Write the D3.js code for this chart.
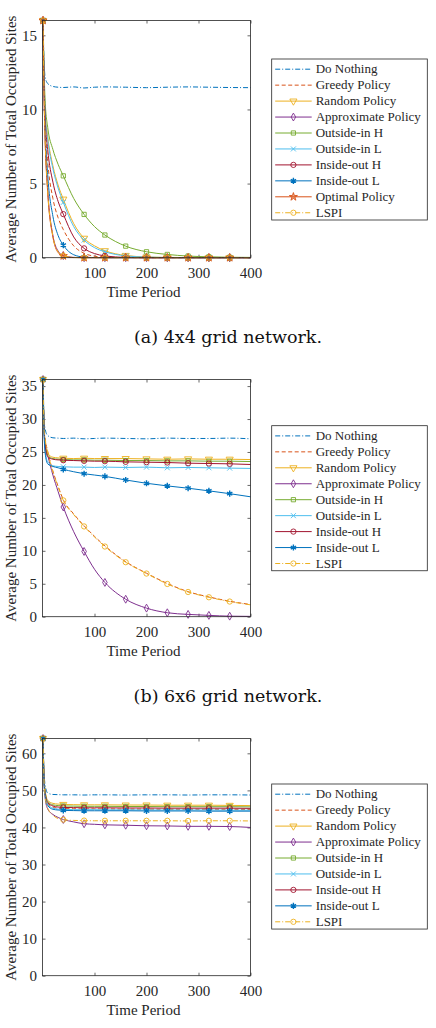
<!DOCTYPE html>
<html>
<head>
<meta charset="utf-8">
<script src="https://cdn.jsdelivr.net/npm/d3@7"></script>
<style>
body { margin: 0; background: #fff; }
svg { display: block; }
text { font-family: "Liberation Serif", "Times New Roman", serif; fill: #262626; }
.caption { font-family: "DejaVu Serif", serif; fill: #111; }
</style>
</head>
<body>
<div id="chart"></div>
<script>
var timeSteps = [1, 3, 5, 10, 20, 30, 40, 60, 80, 100, 120, 160, 200, 240, 280, 320, 360, 400];
var markerSteps = [1, 40, 80, 120, 160, 200, 240, 280, 320, 360];
var xTicks = [100, 200, 300, 400];

// (a) 4x4 grid network
var a_doNothing = [16, 13.3, 12.2, 11.75, 11.55, 11.5, 11.48, 11.52, 11.45, 11.5, 11.52, 11.5, 11.47, 11.5, 11.52, 11.5, 11.48, 11.47];
var a_greedy    = [16, 11.8, 9.2, 6.5, 4.0, 2.7, 1.9, 0.8, 0.3, 0.1, 0.04, 0.01, 0, 0, 0, 0, 0, 0];
var a_random    = [16, 12.3, 10.0, 8.2, 6.2, 4.9, 3.95, 2.3, 1.31, 0.8, 0.47, 0.15, 0.05, 0.02, 0.01, 0, 0, 0];
var a_approx    = [16, 11.0, 8.2, 4.6, 1.5, 0.45, 0.14, 0.02, 0, 0, 0, 0, 0, 0, 0, 0, 0, 0];
var a_outH      = [16, 12.8, 10.6, 8.8, 7.3, 6.3, 5.52, 4.0, 2.92, 2.1, 1.53, 0.78, 0.40, 0.22, 0.11, 0.06, 0.03, 0.02];
var a_outL      = [16, 12.2, 9.8, 8.0, 6.0, 4.7, 3.73, 2.1, 1.19, 0.68, 0.4, 0.12, 0.04, 0.01, 0, 0, 0, 0];
var a_inH       = [16, 12.0, 9.5, 7.3, 5.1, 3.8, 2.94, 1.4, 0.63, 0.28, 0.12, 0.02, 0, 0, 0, 0, 0, 0];
var a_inL       = [16, 11.5, 8.8, 5.6, 2.8, 1.5, 0.85, 0.2, 0.04, 0.01, 0, 0, 0, 0, 0, 0, 0, 0];
var a_optimal   = [16, 10.9, 8.0, 4.4, 1.4, 0.35, 0.12, 0.01, 0, 0, 0, 0, 0, 0, 0, 0, 0, 0];
var a_lspi      = [16, 11.0, 8.1, 4.5, 1.45, 0.4, 0.13, 0.02, 0, 0, 0, 0, 0, 0, 0, 0, 0, 0];
var a_yTicks = [0, 5, 10, 15];

// (b) 6x6 grid network
var b_doNothing = [36, 30.5, 28.5, 27.5, 27.15, 27.1, 27.05, 27.1, 27.0, 27.05, 27.1, 27.05, 27.0, 27.1, 27.05, 27.05, 27.1, 27.0];
var b_greedy    = [36, 28.6, 27.1, 25.1, 22.1, 19.8, 17.75, 15.6, 13.8, 12.2, 10.75, 8.35, 6.6, 5.05, 3.8, 3.0, 2.35, 1.85];
var b_random    = [36, 29, 26.5, 24.8, 24.2, 24.1, 24.05, 24.0, 24.05, 24.0, 24.0, 24.0, 23.95, 23.9, 23.95, 23.9, 23.9, 23.85];
var b_approx    = [36, 28, 26.2, 24.5, 21.5, 19.0, 16.65, 12.9, 9.9, 7.2, 5.2, 2.65, 1.3, 0.6, 0.35, 0.2, 0.08, 0.05];
var b_outH      = [36, 29, 26.3, 24.5, 24.0, 23.9, 23.85, 23.8, 23.8, 23.75, 23.75, 23.7, 23.7, 23.65, 23.65, 23.6, 23.6, 23.55];
var b_outL      = [36, 28.3, 25.3, 23.5, 22.9, 22.8, 22.75, 22.7, 22.7, 22.65, 22.7, 22.65, 22.7, 22.6, 22.65, 22.6, 22.55, 22.5];
var b_inH       = [36, 28.8, 26, 24.3, 23.9, 23.8, 23.75, 23.7, 23.65, 23.6, 23.6, 23.5, 23.45, 23.4, 23.3, 23.25, 23.2, 23.1];
var b_inL       = [36, 28, 24.9, 23.2, 22.8, 22.6, 22.37, 22.0, 21.7, 21.5, 21.3, 20.75, 20.25, 19.85, 19.5, 19.1, 18.67, 18.2];
var b_lspi      = [36, 28.5, 27, 25, 22, 19.7, 17.65, 15.5, 13.7, 12.1, 10.65, 8.27, 6.55, 4.97, 3.75, 2.95, 2.3, 1.8];
var b_yTicks = [0, 5, 10, 15, 20, 25, 30, 35];

// (c) 8x8 grid network
var c_doNothing = [64, 55, 51.5, 49.3, 48.9, 48.85, 48.8, 48.8, 48.75, 48.8, 48.8, 48.75, 48.8, 48.8, 48.75, 48.8, 48.8, 48.75];
var c_greedy    = [64, 52.8, 49.3, 46.5, 45.5, 45.2, 45.1, 45.05, 45.0, 45.0, 45.0, 44.95, 44.95, 44.9, 44.9, 44.9, 44.9, 44.85];
var c_random    = [64, 53.5, 50, 47.3, 46.5, 46.3, 46.2, 46.15, 46.1, 46.1, 46.1, 46.05, 46.05, 46.0, 46.0, 46.0, 45.95, 45.9];
var c_approx    = [64, 52, 48, 45, 43.5, 42.7, 42.15, 41.5, 41.0, 40.85, 40.7, 40.6, 40.45, 40.4, 40.3, 40.3, 40.25, 40.0];
var c_outH      = [64, 53.3, 49.8, 47.0, 46.1, 45.9, 45.8, 45.75, 45.7, 45.7, 45.7, 45.65, 45.65, 45.6, 45.6, 45.6, 45.6, 45.55];
var c_outL      = [64, 52.6, 49.0, 46.2, 45.2, 44.95, 44.85, 44.8, 44.8, 44.8, 44.75, 44.75, 44.7, 44.7, 44.7, 44.7, 44.65, 44.65];
var c_inH       = [64, 53, 49.5, 46.7, 45.8, 45.5, 45.4, 45.35, 45.3, 45.3, 45.3, 45.25, 45.25, 45.2, 45.2, 45.2, 45.2, 45.15];
var c_inL       = [64, 52.3, 48.7, 45.9, 44.9, 44.7, 44.6, 44.55, 44.5, 44.5, 44.5, 44.5, 44.45, 44.45, 44.45, 44.4, 44.4, 44.4];
var c_lspi      = [64, 52.5, 48.5, 45.3, 43.3, 42.4, 42.1, 41.9, 41.85, 41.8, 41.8, 41.8, 41.8, 41.8, 41.75, 41.8, 41.8, 41.75];
var c_yTicks = [0, 10, 20, 30, 40, 50, 60];

// policy styles (matlab default order)
var policies = {
	doNothing: { name: "Do Nothing",         color: "#0072BD", dash: "5,2,1,2", marker: null },
	greedy:    { name: "Greedy Policy",      color: "#D95319", dash: "4,2.5",   marker: null },
	random:    { name: "Random Policy",      color: "#EDB120", dash: null,      marker: "triangleDown" },
	approx:    { name: "Approximate Policy", color: "#7E2F8E", dash: null,      marker: "diamond" },
	outH:      { name: "Outside-in H",       color: "#77AC30", dash: null,      marker: "square" },
	outL:      { name: "Outside-in L",       color: "#4DBEEE", dash: null,      marker: "x" },
	inH:       { name: "Inside-out H",       color: "#A2142F", dash: null,      marker: "circle" },
	inL:       { name: "Inside-out L",       color: "#0072BD", dash: null,      marker: "asterisk" },
	optimal:   { name: "Optimal Policy",     color: "#D95319", dash: null,      marker: "star" },
	lspi:      { name: "LSPI",               color: "#EDB120", dash: "5,2,1,2", marker: "circle" }
};

var panels = [
	{ top: 20.5, yMax: 16, yTicks: a_yTicks, legendTop: 59, caption: "(a) 4x4 grid network.",
	  series: [["doNothing", a_doNothing], ["greedy", a_greedy], ["random", a_random], ["approx", a_approx],
	           ["outH", a_outH], ["outL", a_outL], ["inH", a_inH], ["inL", a_inL], ["optimal", a_optimal], ["lspi", a_lspi]] },
	{ top: 379.5, yMax: 36, yTicks: b_yTicks, legendTop: 425.7, caption: "(b) 6x6 grid network.",
	  series: [["doNothing", b_doNothing], ["greedy", b_greedy], ["random", b_random], ["approx", b_approx],
	           ["outH", b_outH], ["outL", b_outL], ["inH", b_inH], ["inL", b_inL], ["lspi", b_lspi]] },
	{ top: 738.5, yMax: 64, yTicks: c_yTicks, legendTop: 784, caption: null,
	  series: [["doNothing", c_doNothing], ["greedy", c_greedy], ["random", c_random], ["approx", c_approx],
	           ["outH", c_outH], ["outL", c_outL], ["inH", c_inH], ["inL", c_inL], ["lspi", c_lspi]] }
];

var plotLeft = 42.5, plotW = 208, plotH = 237.2;
var axisColor = "#262626";

var svg = d3.select("#chart").append("svg").attr("width", 436).attr("height", 1028);

function drawMarker(g, type, color) {
	var sym = d3.symbol();
	var rot = 0;
	if (type == "triangleDown") { sym.type(d3.symbolTriangle).size(22); rot = 180; }
	else if (type == "diamond") { sym.type(d3.symbolDiamond).size(18); }
	else if (type == "square") { sym.type(d3.symbolSquare).size(18); }
	else if (type == "x") { sym.type(d3.symbolTimes).size(18); }
	else if (type == "circle") { sym.type(d3.symbolCircle).size(22); }
	else if (type == "asterisk") { sym.type(d3.symbolAsterisk).size(26); }
	else if (type == "star") { sym.type(d3.symbolStar).size(20); }
	g.append("path")
		.attr("d", sym())
		.attr("transform", rot ? "rotate(" + rot + ")" : null)
		.attr("fill", type == "asterisk" || type == "star" ? color : "none")
		.attr("fill-opacity", type == "star" ? 0.5 : null)
		.attr("stroke", color)
		.attr("stroke-width", type == "asterisk" ? 1.4 : 0.9);
}

panels.forEach(function (p) {
	var g = svg.append("g").attr("transform", "translate(" + plotLeft + "," + p.top + ")");

	var x = d3.scaleLinear().domain([0, 400]).range([0, plotW]);
	var y = d3.scaleLinear().domain([0, p.yMax]).range([plotH, 0]);

	// axes, ticks pointing inward like matlab
	var bottom = g.append("g").attr("transform", "translate(0," + plotH + ")")
		.call(d3.axisBottom(x).tickValues(xTicks).tickSizeInner(-3).tickSizeOuter(0).tickPadding(9.5));
	var topAx = g.append("g")
		.call(d3.axisTop(x).tickValues(xTicks).tickSizeInner(-3).tickSizeOuter(0).tickFormat(""));
	var left = g.append("g")
		.call(d3.axisLeft(y).tickValues(p.yTicks).tickSizeInner(-3).tickSizeOuter(0).tickPadding(5.5));
	var right = g.append("g").attr("transform", "translate(" + plotW + ",0)")
		.call(d3.axisRight(y).tickValues(p.yTicks).tickSizeInner(-3).tickSizeOuter(0).tickFormat(""));

	[bottom, topAx, left, right].forEach(function (a) {
		a.select(".domain").remove();
		a.selectAll("line").attr("stroke", axisColor).attr("stroke-width", 0.7);
		a.selectAll("text").attr("font-size", 15).attr("font-family", null).attr("fill", axisColor);
		a.attr("font-family", null).attr("font-size", null);
	});

	// lines
	var line = d3.line()
		.x(function (d) { return x(d[0]); })
		.y(function (d) { return y(d[1]); })
		.curve(d3.curveMonotoneX);

	p.series.forEach(function (s) {
		var st = policies[s[0]];
		var pts = timeSteps.map(function (t, i) { return [t, s[1][i]]; });
		g.append("path")
			.datum(pts)
			.attr("d", line)
			.attr("fill", "none")
			.attr("stroke", st.color)
			.attr("stroke-width", 1)
			.attr("stroke-dasharray", st.dash);

		if (st.marker) {
			pts.filter(function (d) { return markerSteps.indexOf(d[0]) != -1; }).forEach(function (d) {
				var mg = g.append("g").attr("transform", "translate(" + x(d[0]) + "," + y(d[1]) + ")");
				drawMarker(mg, st.marker, st.color);
			});
		}
	});

	// frame
	g.append("rect")
		.attr("width", plotW).attr("height", plotH)
		.attr("fill", "none").attr("stroke", axisColor).attr("stroke-width", 0.8);

	// axis titles
	g.append("text")
		.attr("x", plotW / 2 - 3).attr("y", plotH + 39)
		.attr("text-anchor", "middle").attr("font-size", 15)
		.text("Time Period");
	g.append("text")
		.attr("transform", "translate(" + (16 - plotLeft) + "," + (plotH / 2) + ") rotate(-90)")
		.attr("text-anchor", "middle").attr("font-size", 15)
		.text("Average Number of Total Occupied Sites");

	// legend
	var lg = svg.append("g").attr("transform", "translate(271.7," + p.legendTop + ")");
	var rowH = 15.95;
	lg.append("rect")
		.attr("width", 155.6).attr("height", p.series.length * rowH + 1.5)
		.attr("fill", "#fff").attr("stroke", axisColor).attr("stroke-width", 0.8);
	p.series.forEach(function (s, i) {
		var st = policies[s[0]];
		var ry = 10.2 + i * rowH;
		lg.append("line")
			.attr("x1", 3.5).attr("x2", 40).attr("y1", ry).attr("y2", ry)
			.attr("stroke", st.color).attr("stroke-width", 1)
			.attr("stroke-dasharray", st.dash);
		if (st.marker) {
			drawMarker(lg.append("g").attr("transform", "translate(21.7," + ry + ")"), st.marker, st.color);
		}
		lg.append("text")
			.attr("x", 44).attr("y", ry).attr("dy", "0.33em")
			.attr("font-size", 13)
			.text(st.name);
	});

	if (p.caption) {
		svg.append("text")
			.attr("class", "caption")
			.attr("x", 228).attr("y", p.top + plotH + 85)
			.attr("text-anchor", "middle").attr("font-size", 17.5)
			.text(p.caption);
	}
});
</script>
</body>
</html>
